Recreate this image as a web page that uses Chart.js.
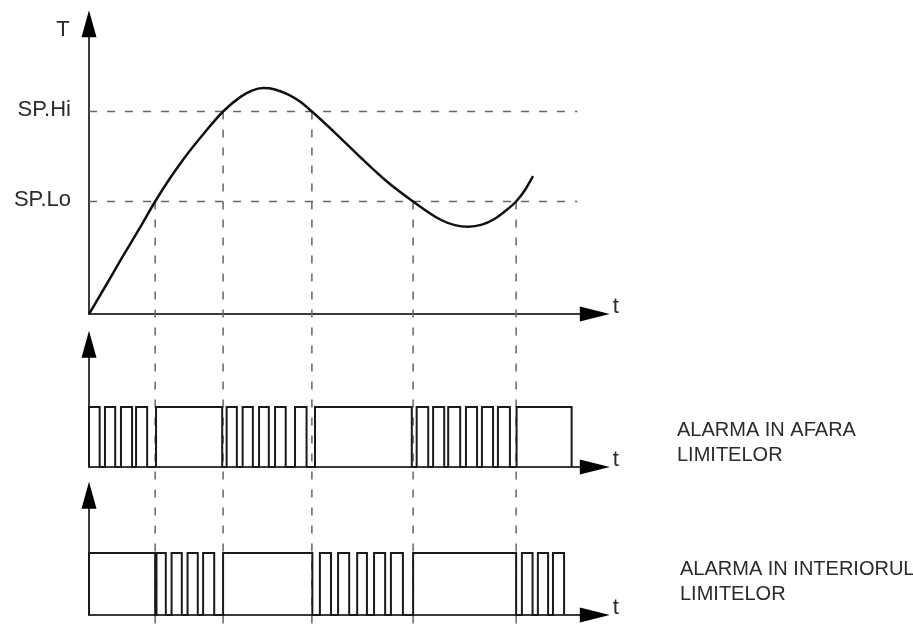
<!DOCTYPE html>
<html lang="ro">
<head>
<meta charset="UTF-8">
<title>Alarma limite SP.Lo / SP.Hi</title>
<script src="https://cdn.jsdelivr.net/npm/chart.js"></script>
<style>
  html, body { margin: 0; padding: 0; background: #fff; }
  #wrap { width: 913px; height: 627px; }
</style>
</head>
<body>
<div id="wrap"><canvas id="alarmChart" width="913" height="627"></canvas></div>
<script>
// set points (temperature units)
var SP_LO = 50;
var SP_HI = 90;
var spValues = [SP_LO, SP_HI];
var spLabels = ['SP.Lo', 'SP.Hi'];

// process temperature (time 0..100)
var curveTime = [0, 3.6, 7.4, 11.3, 14.9, 18.2, 21.6, 26.1, 30.2, 34.2, 36.7, 39.2, 41.9, 44.8, 47.5,
                 50.2, 55.0, 61.0, 67.1, 73.0, 79.1, 82.4, 85.4, 88.5, 91.2, 93.7, 96.2, 98.2, 100];
var curveTemp = [0, 12.0, 24.9, 37.8, 50, 60.2, 69.7, 80.8, 90, 96.6, 99.3, 100.4, 99.8, 97.6, 94.4,
                 90, 81.3, 69.9, 58.9, 50, 42.0, 39.5, 38.8, 39.7, 42.1, 45.7, 50, 55.1, 61.3];

// moments where the curve crosses a set point
var crossTime = [14.9, 30.2, 50.2, 73.0, 96.2];
var crossLevel = [SP_LO, SP_HI, SP_HI, SP_LO, SP_LO];

// relay on-intervals [start, end]
var outsideOn = [[0, 2.4], [3.6, 5.9], [7.2, 9.7], [10.6, 13.1],
                 [15.1, 30.0],
                 [31.0, 33.3], [34.6, 36.9], [38.3, 40.5], [41.9, 44.3], [46.4, 49.0],
                 [50.9, 72.7],
                 [73.8, 76.4], [77.5, 80.0], [80.9, 83.6], [84.9, 87.4], [88.5, 91.0], [92.1, 94.8],
                 [96.3, 108.7]];
var insideOn = [[0, 14.9],
                [15.2, 17.3], [18.6, 20.9], [22.2, 24.5], [25.7, 28.2],
                [30.2, 50.3],
                [52.0, 54.5], [56.1, 58.6], [60.4, 62.6], [64.2, 66.7], [68.0, 70.7],
                [73.0, 96.2],
                [97.5, 99.9], [101.1, 103.4], [104.5, 107.0]];

var panelLabels = [['ALARMA IN AFARA', 'LIMITELOR'], ['ALARMA IN INTERIORUL', 'LIMITELOR']];

// ---- layout (pixels) ----
var W = 913, H = 627;
var X0_PX = 89, X100_PX = 533;
var FONT = '"Liberation Sans", Arial, sans-serif';

function xRange() {
    var k = (X100_PX - X0_PX) / 100;
    return { min: -X0_PX / k, max: (W - X0_PX) / k };
}
function yRange(zeroPx, pxPerUnit) {
    return { min: (zeroPx - H) / pxPerUnit, max: zeroPx / pxPerUnit };
}

// axis extents in data units
var T_AXIS_END = 117.3;   // time where the arrows end
var SP_LINE_END = 110;    // where dashed set point lines stop
var Y_AXIS_TOP = { yT: 135, yA: 2.27, yB: 2.15 };

function stepData(intervals) {
    var pts = [{ x: intervals[0][0], y: 0 }];
    intervals.forEach(function (iv) {
        pts.push({ x: iv[0], y: 1 });
        pts.push({ x: iv[1], y: 0 });
    });
    return pts;
}

var xr = xRange();
var rT = yRange(314, 2.25);
var rA = yRange(467, 60);
var rB = yRange(615, 62);

var datasets = [];
datasets.push({
    data: curveTime.map(function (t, i) { return { x: t, y: curveTemp[i] }; }),
    yAxisID: 'yT', borderColor: '#111', borderWidth: 2.5,
    cubicInterpolationMode: 'monotone'
});
datasets.push({ data: stepData(outsideOn), yAxisID: 'yA', stepped: 'before', borderColor: '#1a1a1a', borderWidth: 2 });
datasets.push({ data: stepData(insideOn), yAxisID: 'yB', stepped: 'before', borderColor: '#1a1a1a', borderWidth: 2 });

spValues.forEach(function (v) {
    datasets.push({
        data: [{ x: 0, y: v }, { x: SP_LINE_END, y: v }],
        yAxisID: 'yT', borderColor: '#666', borderWidth: 1.5, borderDash: [8, 10]
    });
});
crossTime.forEach(function (t, i) {
    datasets.push({
        data: [{ x: t, y: crossLevel[i] }, { x: t, y: rT.min }],
        yAxisID: 'yT', borderColor: '#666', borderWidth: 1.5, borderDash: [8, 10]
    });
});

function arrowUp(ctx, x, tipY) {
    ctx.beginPath();
    ctx.moveTo(x, tipY);
    ctx.lineTo(x - 7.5, tipY + 27);
    ctx.lineTo(x + 7.5, tipY + 27);
    ctx.closePath();
    ctx.fill();
}
function arrowRight(ctx, tipX, y) {
    ctx.beginPath();
    ctx.moveTo(tipX, y);
    ctx.lineTo(tipX - 30, y - 7.5);
    ctx.lineTo(tipX - 30, y + 7.5);
    ctx.closePath();
    ctx.fill();
}

var diagramPlugin = {
    id: 'diagram',
    beforeDatasetsDraw: function (chart) {
        var ctx = chart.ctx, sx = chart.scales.x;
        var x0 = sx.getPixelForValue(0), xEnd = sx.getPixelForValue(T_AXIS_END);
        ctx.save();
        ctx.strokeStyle = '#3a3a3a';
        ctx.fillStyle = '#000';
        ctx.lineWidth = 2;
        ['yT', 'yA', 'yB'].forEach(function (id) {
            var s = chart.scales[id];
            var y0 = s.getPixelForValue(0), yTop = s.getPixelForValue(Y_AXIS_TOP[id]);
            ctx.beginPath();
            ctx.moveTo(x0, yTop + 20);
            ctx.lineTo(x0, y0);
            ctx.lineTo(xEnd - 20, y0);
            ctx.stroke();
            arrowUp(ctx, x0, yTop);
            arrowRight(ctx, xEnd, y0);
        });
        ctx.restore();
    },
    afterDatasetsDraw: function (chart) {
        var ctx = chart.ctx, sx = chart.scales.x;
        ctx.save();
        ctx.fillStyle = '#2b2b2b';
        ctx.font = '22px ' + FONT;
        ctx.textBaseline = 'alphabetic';

        // set point labels
        ctx.textAlign = 'right';
        spValues.forEach(function (v, i) {
            ctx.fillText(spLabels[i], 71, chart.scales.yT.getPixelForValue(v) + 4);
        });
        // axis names
        ctx.textAlign = 'center';
        ctx.fillText('T', 63, 36);
        ctx.textAlign = 'left';
        var tx = sx.getPixelForValue(T_AXIS_END) + 3;
        ['yT', 'yA', 'yB'].forEach(function (id) {
            ctx.fillText('t', tx, chart.scales[id].getPixelForValue(0) - 1);
        });
        // panel captions
        ctx.font = '20px ' + FONT;
        ctx.fillText(panelLabels[0][0], 677, 436);
        ctx.fillText(panelLabels[0][1], 677, 461);
        ctx.fillText(panelLabels[1][0], 680, 575);
        ctx.fillText(panelLabels[1][1], 680, 600);
        ctx.restore();
    }
};

new Chart(document.getElementById('alarmChart'), {
    type: 'line',
    data: { datasets: datasets },
    options: {
        responsive: false,
        animation: false,
        layout: { padding: 0 },
        plugins: { legend: { display: false }, tooltip: { enabled: false } },
        elements: { point: { radius: 0 } },
        scales: {
            x: { type: 'linear', display: false, min: xr.min, max: xr.max },
            yT: { type: 'linear', display: false, min: rT.min, max: rT.max },
            yA: { type: 'linear', display: false, min: rA.min, max: rA.max },
            yB: { type: 'linear', display: false, min: rB.min, max: rB.max }
        }
    },
    plugins: [diagramPlugin]
});
</script>
</body>
</html>
